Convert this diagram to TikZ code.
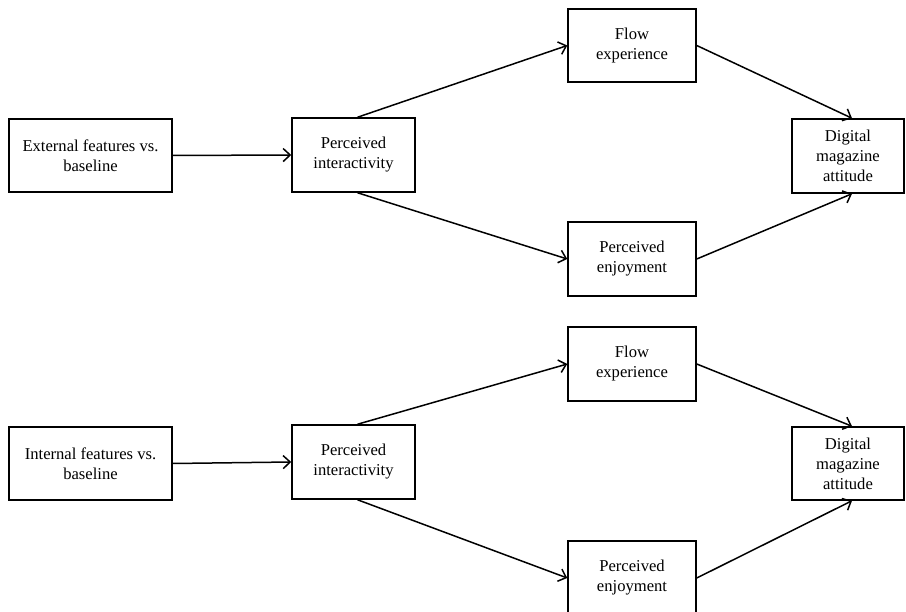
\documentclass[tikz,border=0pt]{standalone}
\usepackage{fontspec}
\setmainfont{Liberation Serif}
\usepackage{tikz}
\usetikzlibrary{arrows.meta,calc}

\begin{document}
\begin{tikzpicture}[x=1pt,y=-1pt,
  box/.style={draw,line width=1.5pt,align=center,inner sep=0pt,
    font=\fontsize{16.6}{20}\selectfont},
  arr/.style={line width=1.5pt,-{Straight Barb[length=7pt,width=13pt,line width=1.5pt]}}]
\useasboundingbox (0,0) rectangle (906,612);
% upper model
\node[box,minimum width=163pt,minimum height=73pt] (ext) at (90.5,155.5) {External features vs.\\ baseline};
\node[box,minimum width=123pt,minimum height=74pt] (inter) at (353.5,155) {Perceived\\ interactivity};
\node[box,minimum width=128pt,minimum height=73pt] (flow) at (632,45.5) {Flow\\ experience};
\node[box,minimum width=128pt,minimum height=74pt] (enjoy) at (632,259) {Perceived\\ enjoyment};
\node[box,minimum width=112pt,minimum height=74pt] (attit) at (848,156) {Digital\\ magazine\\ attitude};
\draw[arr] (ext.east) -- (inter.west);
\draw[arr] ([xshift=4pt]inter.north) -- (flow.west);
\draw[arr] ([xshift=4pt]inter.south) -- (enjoy.west);
\draw[arr] (flow.east) -- ([xshift=4pt]attit.north);
\draw[arr] (enjoy.east) -- ([xshift=4pt]attit.south);
% lower model
\node[box,minimum width=163pt,minimum height=73pt] (int2) at (90.5,463.5) {Internal features vs.\\ baseline};
\node[box,minimum width=123pt,minimum height=74pt] (inter2) at (353.5,462) {Perceived\\ interactivity};
\node[box,minimum width=128pt,minimum height=74pt] (flow2) at (632,364) {Flow\\ experience};
\node[box,minimum width=128pt,minimum height=74pt] (enjoy2) at (632,578) {Perceived\\ enjoyment};
\node[box,minimum width=112pt,minimum height=73pt] (attit2) at (848,463.5) {Digital\\ magazine\\ attitude};
\draw[arr] (int2.east) -- (inter2.west);
\draw[arr] ([xshift=4pt]inter2.north) -- (flow2.west);
\draw[arr] ([xshift=4pt]inter2.south) -- (enjoy2.west);
\draw[arr] (flow2.east) -- ([xshift=4pt]attit2.north);
\draw[arr] (enjoy2.east) -- ([xshift=4pt]attit2.south);
\end{tikzpicture}
\end{document}
